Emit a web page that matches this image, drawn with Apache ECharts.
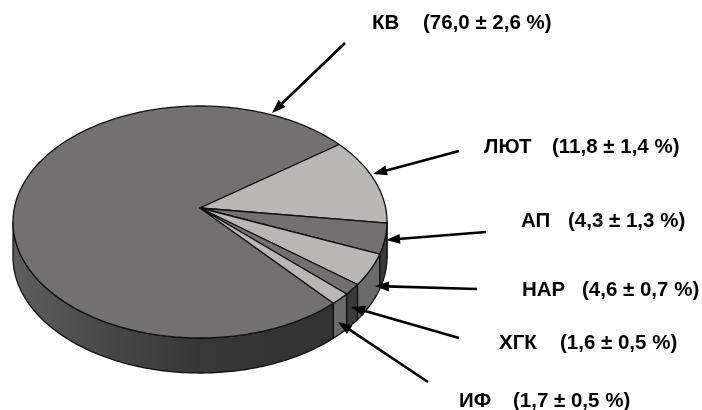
<!DOCTYPE html>
<html>
<head>
<meta charset="utf-8">
<script src="https://cdn.jsdelivr.net/npm/echarts@6/dist/echarts.min.js"></script>
<style>
  html, body { margin: 0; padding: 0; background: #ffffff; }
  #chart { width: 702px; height: 410px; }
</style>
</head>
<body>
<div id="chart"></div>
<script>
// Composition shares (%) with their errors
const categories = ['КВ', 'ЛЮТ', 'АП', 'НАР', 'ХГК', 'ИФ'];
const shares = [76.0, 11.8, 4.3, 4.6, 1.6, 1.7];
const errors = [2.6, 1.4, 1.3, 0.7, 0.5, 0.5];
const tones = ['dark', 'light', 'dark', 'light', 'dark', 'light'];

// Tilted disc geometry, in pixels
const disc = { cx: 200, cy: 222, rx: 187, ry: 116, apexX: 200, apexY: 208, depth: 35, startDeg: 44.5 };
const palette = {
  dark:  { top: '#727070', wall: '#3a3a3a' },
  light: { top: '#b9b6b6', wall: '#6b6b6b' }
};
// Callout layout per category: name x, value x, text y, arrow tail (x, y), arrow tip (x, y)
const callouts = [
  [372, 423, 23,  345, 43,  272, 113],
  [484, 552, 147, 459, 151, 373, 174],
  [521, 568, 221, 486, 232, 386, 240],
  [522, 582, 290, 477, 289, 375, 286],
  [499, 560, 343, 459, 338, 351, 307],
  [459, 513, 401, 428, 382, 338, 322]
];

const total = shares.reduce((a, b) => a + b, 0);
const starts = [];
(function () {
  let acc = disc.startDeg;
  shares.forEach(v => { starts.push(acc); acc += v / total * 360; });
})();

function pt(deg, dy) {
  const r = deg * Math.PI / 180;
  return [disc.cx + disc.rx * Math.cos(r), disc.cy + disc.ry * Math.sin(r) + (dy || 0)];
}
function arc(a1, a2, dy) {
  const n = Math.max(2, Math.ceil(Math.abs(a2 - a1)));
  const out = [];
  for (let i = 0; i <= n; i++) out.push(pt(a1 + (a2 - a1) * i / n, dy));
  return out;
}
const fmt = v => v.toFixed(1).replace('.', ',');

const wallShade = new echarts.graphic.LinearGradient(13, 0, 387, 0, [
  { offset: 0, color: '#5e5e5e' },
  { offset: 0.25, color: '#474747' },
  { offset: 0.5, color: '#373737' },
  { offset: 1, color: '#303030' }
], true);

function renderSlice(params, api) {
  const i = params.dataIndex;
  const a1 = starts[i];
  const a2 = a1 + api.value(0) / total * 360;
  const tone = palette[tones[i]];
  const children = [];
  // front side wall: parts of the slice facing the viewer
  [0, 360].forEach(k => {
    const lo = Math.max(a1, k), hi = Math.min(a2, k + 180);
    if (hi > lo) {
      const pts = arc(lo, hi, 0).concat(arc(hi, lo, disc.depth));
      children.push({
        type: 'polygon',
        shape: { points: pts },
        style: {
          fill: i === 0 ? wallShade : tone.wall,
          stroke: '#111', lineWidth: 1.3, lineJoin: 'round'
        }
      });
    }
  });
  // top face
  const topPts = [[disc.apexX, disc.apexY]].concat(arc(a1, a2, 0));
  children.push({
    type: 'polygon',
    shape: { points: topPts },
    style: { fill: tone.top, stroke: '#111', lineWidth: 1.3, lineJoin: 'round' }
  });
  return { type: 'group', children: children };
}

const font = 'bold 20.5px "Liberation Sans", Arial, sans-serif';
const annotations = [];
categories.forEach((name, i) => {
  const c = callouts[i];
  annotations.push({
    type: 'text', x: c[0], y: c[2], z: 10,
    style: { text: name, font: font, fill: '#000', textVerticalAlign: 'middle', verticalAlign: 'middle' }
  });
  annotations.push({
    type: 'text', x: c[1], y: c[2], z: 10,
    style: { text: '(' + fmt(shares[i]) + ' ± ' + fmt(errors[i]) + ' %)', font: font, fill: '#000',
             textVerticalAlign: 'middle', verticalAlign: 'middle' }
  });
  // arrow from the label toward the slice
  const tx = c[3], ty = c[4], hx = c[5], hy = c[6];
  const dx = hx - tx, dy = hy - ty, len = Math.hypot(dx, dy);
  const ux = dx / len, uy = dy / len;
  const headLen = 14, headHalf = 5;
  const bx = hx - ux * headLen, by = hy - uy * headLen;
  annotations.push({
    type: 'line', z: 10,
    shape: { x1: tx, y1: ty, x2: bx + ux * 2, y2: by + uy * 2 },
    style: { stroke: '#000', lineWidth: 2.6 }
  });
  annotations.push({
    type: 'polygon', z: 10,
    shape: { points: [[hx, hy], [bx - uy * headHalf, by + ux * headHalf], [bx + uy * headHalf, by - ux * headHalf]] },
    style: { fill: '#000' }
  });
});

const chart = echarts.init(document.getElementById('chart'), null, { renderer: 'canvas' });
chart.setOption({
  animation: false,
  backgroundColor: '#ffffff',
  series: [{
    type: 'custom',
    coordinateSystem: 'none',
    renderItem: renderSlice,
    data: shares.map((v, i) => ({ name: categories[i], value: [v] }))
  }],
  graphic: { elements: annotations }
});
</script>
</body>
</html>
